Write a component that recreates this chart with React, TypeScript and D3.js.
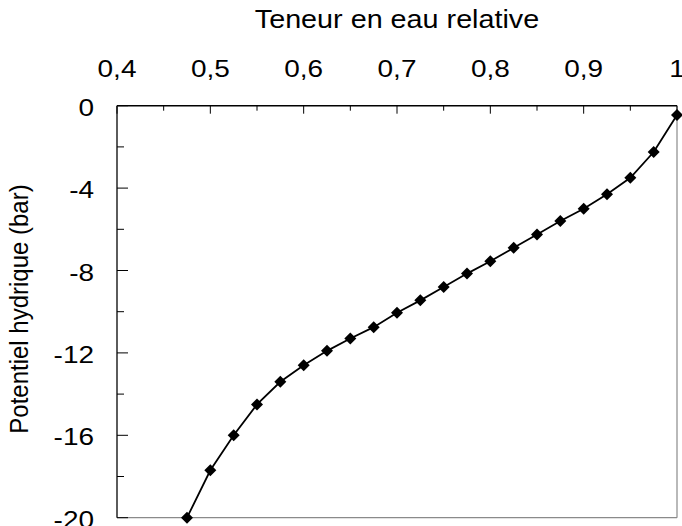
import React from 'react';
import * as d3 from 'd3';

// relative water content vs water potential (bar)
const teneur = [0.475, 0.5, 0.525, 0.55, 0.575, 0.6, 0.625, 0.65, 0.675, 0.7, 0.725,
  0.75, 0.775, 0.8, 0.825, 0.85, 0.875, 0.9, 0.925, 0.95, 0.975, 1.0];
const potentiel = [-20, -17.7, -16.0, -14.5, -13.4, -12.6, -11.9, -11.3, -10.75, -10.05, -9.45,
  -8.8, -8.15, -7.55, -6.9, -6.25, -5.6, -5.0, -4.3, -3.5, -2.25, -0.45];

const xMajor = [0.4, 0.5, 0.6, 0.7, 0.8, 0.9, 1.0];
const xMinor = [0.45, 0.55, 0.65, 0.75, 0.85, 0.95];
const yMajor = [0, -4, -8, -12, -16, -20];
const yMinor = [-2, -6, -10, -14, -18];

const W = 682, H = 526;
const M = { l: 117, r: 677, t: 105.7, b: 517.7 };

const fr = d3.formatLocale({ decimal: ',', thousands: ' ', grouping: [3], currency: ['', ' €'], minus: '-' });
const fmt = fr.format('~g');

const FONT = 'Liberation Sans, Arial, Helvetica, sans-serif';

export default function App() {
  const x = d3.scaleLinear().domain([0.4, 1]).range([M.l, M.r]);
  const y = d3.scaleLinear().domain([0, -20]).range([M.t, M.b]);

  const pts = teneur.map((t, i) => [t, potentiel[i]] as [number, number]);
  const line = d3.line<[number, number]>().x(d => x(d[0])).y(d => y(d[1]));
  const diamond = d3.symbol().type(d3.symbolSquare).size(72)();

  return (
    <svg width={W} height={H} style={{ position: 'absolute', left: 0, top: 0, background: '#fff' }}
      fontFamily={FONT}>
      {/* frame: right & bottom lighter */}
      <line x1={M.r} x2={M.r} y1={M.t} y2={M.b} stroke="#8a8a8a" strokeWidth={1.2} />
      <line x1={M.l} x2={M.r} y1={M.b} y2={M.b} stroke="#8a8a8a" strokeWidth={1.2} />
      <line x1={M.l} x2={M.r} y1={M.t} y2={M.t} stroke="#000" strokeWidth={1.6} />
      <line x1={M.l} x2={M.l} y1={M.t} y2={M.b} stroke="#333" strokeWidth={1.6} />

      {/* top axis ticks (inward) */}
      {xMajor.map(v => (
        <g key={'xM' + v}>
          <line x1={x(v)} x2={x(v)} y1={M.t} y2={M.t + 8} stroke="#000" strokeWidth={1} />
          <text transform={`translate(${x(v)},77) scale(1.19,1)`} textAnchor="middle" fontSize={23.5}>
            {fmt(v)}
          </text>
        </g>
      ))}
      {xMinor.map(v => (
        <line key={'xm' + v} x1={x(v)} x2={x(v)} y1={M.t} y2={M.t + 5} stroke="#000" strokeWidth={1} />
      ))}

      {/* left axis ticks (inward) */}
      {yMajor.map(v => (
        <g key={'yM' + v}>
          <line x1={M.l} x2={M.l + 11} y1={y(v)} y2={y(v)} stroke="#000" strokeWidth={1} />
          <text transform={`translate(94,${y(v) + 10}) scale(1.19,1)`} textAnchor="end" fontSize={23.5}>
            {fmt(v)}
          </text>
        </g>
      ))}
      {yMinor.map(v => (
        <line key={'ym' + v} x1={M.l} x2={M.l + 7} y1={y(v)} y2={y(v)} stroke="#000" strokeWidth={1} />
      ))}

      {/* titles */}
      <text transform={`translate(${(M.l + M.r) / 2},28) scale(1.15,1)`} textAnchor="middle" fontSize={25}>
        Teneur en eau relative
      </text>
      <text transform={`translate(28,309) rotate(-90) scale(1,1.05)`} textAnchor="middle" fontSize={24}>
        Potentiel hydrique (bar)
      </text>

      {/* curve */}
      <path d={line(pts) || ''} fill="none" stroke="#000" strokeWidth={1.8} />
      {pts.map((d, i) => (
        <path key={i} d={diamond || ''} transform={`translate(${x(d[0])},${y(d[1])}) rotate(45)`} fill="#000" />
      ))}
    </svg>
  );
}
